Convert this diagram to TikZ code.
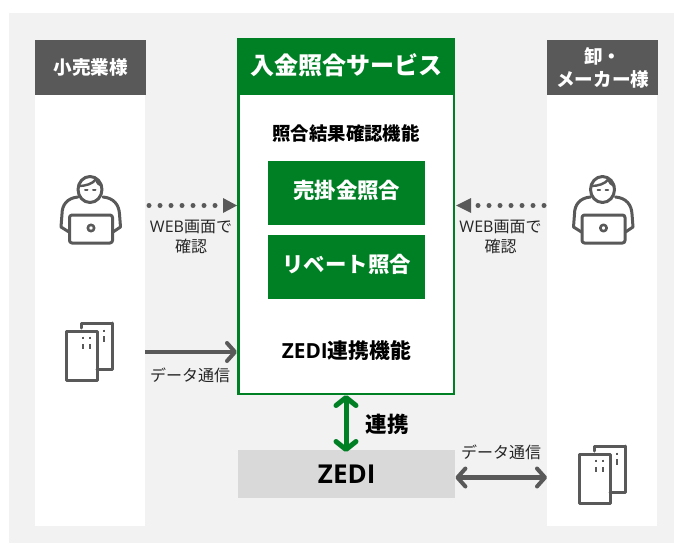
\documentclass[tikz,border=0pt]{standalone}
\usepackage{fontspec}
\setmainfont{Noto Sans CJK JP}
\newfontfamily\lat{Open Sans}
\usetikzlibrary{arrows.meta}
\definecolor{gbg}{HTML}{F2F2F2}
\definecolor{gdark}{HTML}{595959}
\definecolor{gmain}{HTML}{008025}
\definecolor{gzedi}{HTML}{D9D9D9}
\newcommand{\fs}[2][0]{\fontsize{#2}{\dimexpr#2pt+#1pt\relax}\selectfont}
\tikzset{
  x=1pt,y=-1pt,
  ico/.style={draw=gdark,line width=3pt,line cap=round,line join=round},
  lab/.style={align=center,inner sep=0pt,font=\fs[4]{16}\color{black!85}},
  blk/.style={inner sep=0pt,align=center,font=\bfseries\fs{18.4}},
  gbox/.style={fill=gmain,text=white,inner sep=0pt,align=center,font=\bfseries\fs{21.4}},
  headbox/.style={fill=gdark,text=white,inner sep=0pt,align=center,font=\bfseries\fs[4]{18.6}},
  conn/.style={draw=gdark,line width=4.2pt},
  hookt/.tip={Straight Barb[length=8pt,width=18pt,line width=4pt,round]},
  hookg/.tip={Straight Barb[length=8pt,width=20pt,line width=5pt,round]},
}
\newcommand{\person}[2]{%
 \begin{scope}[shift={(#1,#2)}]
  \draw[ico] (-1,-16.5) circle[x radius=12pt,y radius=13pt];
  \draw[ico,line width=2.4pt] (-12,-20) .. controls (-6,-20) and (2,-22) .. (5,-27);
  \draw[ico,line width=2.4pt] (5,-27) .. controls (6,-23) and (8,-21) .. (11,-20);
  \draw[ico,line width=2pt] (-6,-15.7) -- (-3.5,-15.7) (2,-15.7) -- (4.5,-15.7);
  \draw[ico] (-13,-9) .. controls (-24,-8) and (-29,-1) .. (-29,8) -- (-30,21) -- (-22,26);
  \draw[ico] (12,-9) .. controls (23,-8) and (28,-1) .. (28.5,8) -- (29.5,21) -- (22,26);
  \draw[ico,fill=white,rounded corners=2.5pt] (-21.5,9) rectangle (21.5,37);
  \draw[ico,line width=2.6pt] (0,22) circle[radius=3.2pt];
 \end{scope}}
\newcommand{\serverico}[2]{%
 \begin{scope}[shift={(#1,#2)}]
  \draw[ico] (-7,-23) -- (-7,-28) -- (24,-28);
  \draw[ico] (24,-28) -- (24,18) -- (9,18);
  \draw[ico] (-22,-20) -- (9,-20) -- (9,29) -- (-22,29) -- cycle;
  \draw[ico,line width=2.6pt,line cap=butt] (-5,-14.5) -- (-5,-12) (2,-14.5) -- (2,-12) (-5,-7) -- (-5,-2) (2,-7) -- (2,-2) (16,-21.5) -- (16,-19) (16,-15) -- (16,-9.5);
 \end{scope}}
\begin{document}
\begin{tikzpicture}
\useasboundingbox (0,0) rectangle (674,543);
\fill[gbg] (9,13) rectangle (674,543);
\fill[white] (35,95) rectangle (145,526);
\fill[white] (547,95) rectangle (657,526);
\node[headbox,minimum width=111pt,minimum height=55pt,anchor=north west] (h1) at (35,40) {小売業様};
\node[headbox,minimum width=111pt,minimum height=55pt,anchor=north west] (h2) at (547,40) {卸・\\メーカー様};
\node[draw=gmain,line width=2.5pt,fill=white,minimum width=215.5pt,minimum height=354.5pt,anchor=north west,inner sep=0pt] (main) at (237,38) {};
\node[gbox,font=\bfseries\fs{24},minimum width=218pt,minimum height=57pt,anchor=north west] (mh) at (237,38) {\raisebox{1.5pt}[\height][\depth]{入金照合サービス}};
\node[blk] (f1) at (346,133) {照合結果確認機能};
\node[gbox,minimum width=157pt,minimum height=64pt,anchor=north west] (b1) at (268,161) {\raisebox{2.5pt}[\height][\depth]{売掛金照合}};
\node[gbox,minimum width=157pt,minimum height=64pt,anchor=north west] (b2) at (268,235) {\raisebox{2.5pt}[\height][\depth]{リベート照合}};
\node[blk,font=\bfseries\fs{20.8}] (f2) at (346.5,351) {{\lat ZEDI}連携機能};
\node[fill=gzedi,minimum width=217pt,minimum height=48pt,anchor=north west,inner sep=0pt,font=\bfseries\lat\fs{26}] (zedi) at (238,450) {ZEDI};
\person{91}{206}
\person{603.5}{206}
\serverico{88}{351}
\serverico{601}{474}
\coordinate (s1) at (145,352);
\coordinate (s2) at (547,477.5);
\fill[gdark] (237,205.5) -- (223,198) -- (223,213) -- cycle;
\fill[gdark] (456,205.5) -- (471,198) -- (471,213) -- cycle;
\foreach \i in {0,...,6} {\fill[gdark] (149+11*\i,205.5) circle[radius=2.5pt];}
\foreach \i in {0,...,6} {\fill[gdark] (544-11*\i,205.5) circle[radius=2.5pt];}
\node[lab] (t1) at (191,236.5) {{\lat WEB}画面で\\確認};
\node[lab] (t2) at (500.5,236.5) {{\lat WEB}画面で\\確認};
\draw[conn,-{hookt}] (s1) -- (main.west |- s1);
\node[lab] (t3) at (190,375) {データ通信};
\draw[conn,{hookt}-{hookt}] (zedi.east |- s2) -- (s2);
\node[lab] (t4) at (501,452) {データ通信};
\draw[draw=gmain,line width=5pt,shorten >=-2pt,{hookg}-{hookg}] (main.south -| 346,0) -- (zedi.north -| 346,0);
\node[blk,font=\bfseries\fs{21.5}] (t5) at (387,424) {連携};
\end{tikzpicture}
\end{document}
